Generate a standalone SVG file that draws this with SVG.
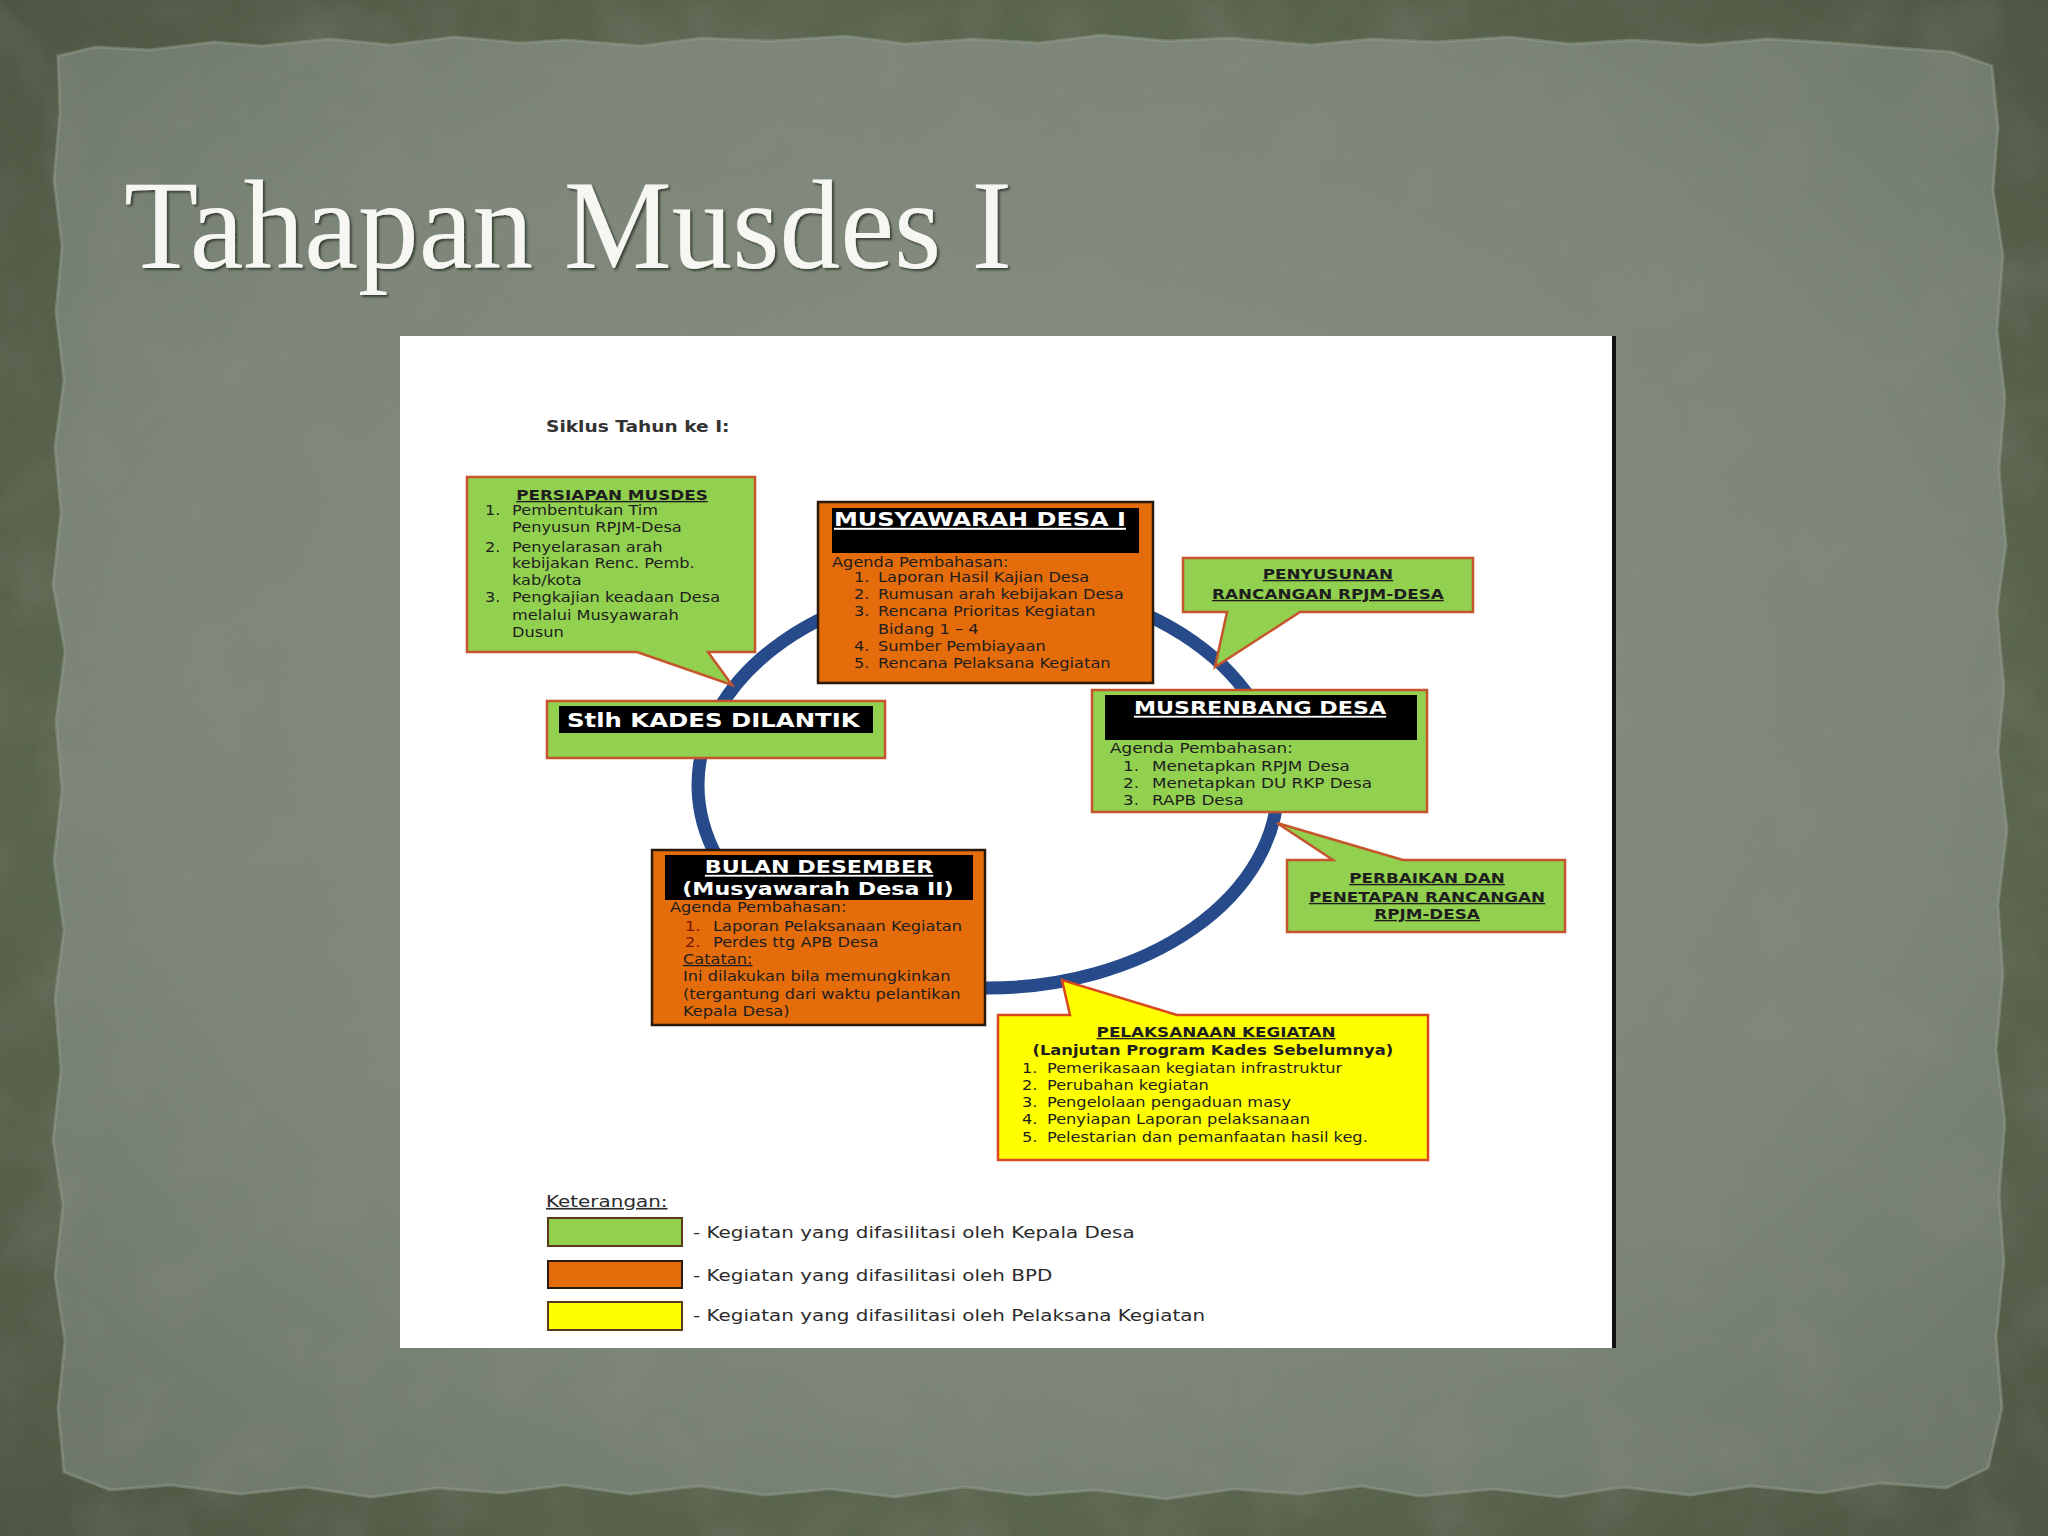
<svg xmlns="http://www.w3.org/2000/svg" width="2048" height="1536" viewBox="0 0 2048 1536">
<defs>
<radialGradient id="paper" cx="50%" cy="45%" r="70%">
<stop offset="0" stop-color="#899285"/>
<stop offset="0.7" stop-color="#7c8678"/>
<stop offset="1" stop-color="#6e786a"/>
</radialGradient>
<radialGradient id="outer" cx="50%" cy="50%" r="75%">
<stop offset="0.6" stop-color="#5b664f"/>
<stop offset="1" stop-color="#48523e"/>
</radialGradient>
<filter id="noise" x="0" y="0" width="100%" height="100%">
<feTurbulence type="fractalNoise" baseFrequency="0.9" numOctaves="2" seed="3" result="n"/>
<feColorMatrix in="n" type="matrix" values="0 0 0 0 0.2  0 0 0 0 0.22  0 0 0 0 0.18  0 0 0 -1.2 0.75"/>
</filter>
<filter id="mottle" x="0" y="0" width="100%" height="100%">
<feTurbulence type="fractalNoise" baseFrequency="0.012" numOctaves="3" seed="7" result="m"/>
<feColorMatrix in="m" type="matrix" values="0 0 0 0 0.25  0 0 0 0 0.28  0 0 0 0 0.22  0 0 0 -1.5 0.85"/>
</filter>
<filter id="emboss" x="-5%" y="-20%" width="110%" height="140%">
<feDropShadow dx="2" dy="2" stdDeviation="1.2" flood-color="#2f352b" flood-opacity="0.85"/>
</filter>
<style>
.t{font-family:"DejaVu Sans","Liberation Sans",sans-serif}
.b{font-weight:bold}
.u{text-decoration:underline}
.w{fill:#ffffff}
.green{fill:#92d050;stroke:#c5552a;stroke-width:2.5}
.orange{fill:#e46c0a;stroke:#2a1a0c;stroke-width:2.5}
.yellow{fill:#ffff00;stroke:#d9481e;stroke-width:2.5}
.hdr{fill:#000000}
.red{fill:#7a1500}
</style>
</defs>

<g id="background">
<rect width="2048" height="1536" fill="url(#outer)"/>
<path fill="url(#paper)" stroke="#9aa394" stroke-width="3" stroke-opacity="0.45" d="M58,56 L96,47 L150,50 L214,42 L262,46 L330,39 L391,45 L455,37 L520,43 L566,40 L640,46 L702,38 L770,41 L846,36 L905,44 L972,39 L1040,43 L1101,35 L1168,41 L1230,38 L1311,45 L1372,39 L1436,42 L1509,37 L1570,44 L1633,40 L1702,45 L1768,39 L1835,43 L1896,48 L1952,52 L1992,66 L1998,128 L1993,190 L2003,255 L1997,330 L2005,398 L1999,470 L2006,545 L1997,610 L2004,688 L1998,752 L2007,830 L1998,905 L2003,975 L1996,1050 L2005,1122 L1999,1195 L2004,1262 L1996,1338 L2002,1408 L1988,1468 L1946,1488 L1880,1483 L1822,1493 L1751,1486 L1690,1495 L1622,1487 L1560,1497 L1494,1489 L1420,1496 L1361,1486 L1300,1494 L1233,1489 L1166,1499 L1095,1490 L1030,1495 L964,1487 L895,1497 L830,1489 L765,1495 L699,1486 L630,1494 L565,1485 L502,1493 L437,1488 L371,1497 L305,1487 L240,1494 L171,1485 L110,1490 L64,1472 L58,1408 L65,1341 L55,1276 L63,1205 L53,1140 L61,1070 L55,998 L64,930 L54,861 L62,790 L56,722 L65,651 L53,585 L61,512 L55,447 L64,380 L56,312 L62,246 L54,180 L60,112 Z"/>
<rect width="2048" height="1536" filter="url(#mottle)" opacity="0.35"/>
<rect width="2048" height="1536" filter="url(#noise)" opacity="0.25"/>
</g>

<g id="title">
<text x="124" y="268" font-family="Liberation Serif, DejaVu Serif, serif" font-size="128" fill="#f6f6f2" textLength="888" lengthAdjust="spacingAndGlyphs" filter="url(#emboss)">Tahapan Musdes I</text>
</g>

<g id="panel">
<rect x="400" y="336" width="1214" height="1012" fill="#ffffff"/>
<rect x="1612" y="336" width="4" height="1012" fill="#111111"/>
<g transform="translate(546,0) scale(1.2,1)">
<text class="t b" x="0" y="432" font-size="15.5" fill="#333333">Siklus Tahun ke I:</text>
</g>
</g>

<g id="connectors">
<ellipse cx="988" cy="785" rx="290" ry="203" fill="none" stroke="#264a8a" stroke-width="13"/>
</g>

<g id="persiapan">
<path class="green" d="M467,477 H755 V652 H708 L732,685 L637,652 H467 Z"/>
<g transform="translate(467,0) scale(1.2,1)" font-size="13.5" fill="#1e1e1e">
<text class="t b u" x="120.8" y="500" text-anchor="middle" font-size="14">PERSIAPAN MUSDES</text>
<text class="t" x="15" y="515">1.</text><text class="t" x="37.5" y="515">Pembentukan Tim</text>
<text class="t" x="37.5" y="532">Penyusun RPJM-Desa</text>
<text class="t" x="15" y="552">2.</text><text class="t" x="37.5" y="552">Penyelarasan arah</text>
<text class="t" x="37.5" y="568">kebijakan Renc. Pemb.</text>
<text class="t" x="37.5" y="585">kab/kota</text>
<text class="t" x="15" y="602">3.</text><text class="t" x="37.5" y="602">Pengkajian keadaan Desa</text>
<text class="t" x="37.5" y="620">melalui Musyawarah</text>
<text class="t" x="37.5" y="637">Dusun</text>
</g>
</g>

<g id="musyawarah-desa-1">
<rect class="orange" x="818" y="502" width="335" height="181"/>
<rect class="hdr" x="832" y="508" width="307" height="45"/>
<g transform="translate(818,0) scale(1.2,1)" font-size="13.5" fill="#1e1e1e">
<text class="t b u w" x="13.3" y="526" font-size="20">MUSYAWARAH DESA I</text>
<text class="t" x="11.7" y="567">Agenda Pembahasan:</text>
<text class="t" x="30" y="582">1.</text><text class="t" x="50" y="582">Laporan Hasil Kajian Desa</text>
<text class="t" x="30" y="599">2.</text><text class="t" x="50" y="599">Rumusan arah kebijakan Desa</text>
<text class="t" x="30" y="616">3.</text><text class="t" x="50" y="616">Rencana Prioritas Kegiatan</text>
<text class="t" x="50" y="634">Bidang 1 – 4</text>
<text class="t" x="30" y="651">4.</text><text class="t" x="50" y="651">Sumber Pembiayaan</text>
<text class="t" x="30" y="668">5.</text><text class="t" x="50" y="668">Rencana Pelaksana Kegiatan</text>
</g>
</g>

<g id="penyusunan">
<path class="green" d="M1183,558 H1473 V612 H1300 L1215,667 L1227,612 H1183 Z"/>
<g transform="translate(1183,0) scale(1.2,1)" font-size="14" fill="#1e1e1e">
<text class="t b u" x="120.8" y="579" text-anchor="middle">PENYUSUNAN</text>
<text class="t b u" x="120.8" y="599" text-anchor="middle">RANCANGAN RPJM-DESA</text>
</g>
</g>

<g id="stlh-kades">
<rect class="green" x="547" y="701" width="338" height="57"/>
<rect class="hdr" x="559" y="706" width="314" height="27"/>
<g transform="translate(547,0) scale(1.25,1)" font-size="19.5">
<text class="t b w" x="16" y="727">Stlh KADES DILANTIK</text>
</g>
</g>

<g id="musrenbang">
<rect class="green" x="1092" y="690" width="335" height="122"/>
<rect class="hdr" x="1105" y="695" width="312" height="45"/>
<g transform="translate(1092,0) scale(1.2,1)" font-size="14" fill="#1e1e1e">
<text class="t b u w" x="140" y="714" text-anchor="middle" font-size="18.5">MUSRENBANG DESA</text>
<text class="t" x="15" y="753">Agenda Pembahasan:</text>
<text class="t" x="25.8" y="771">1.</text><text class="t" x="50" y="771">Menetapkan RPJM Desa</text>
<text class="t" x="25.8" y="788">2.</text><text class="t" x="50" y="788">Menetapkan DU RKP Desa</text>
<text class="t" x="25.8" y="805">3.</text><text class="t" x="50" y="805">RAPB Desa</text>
</g>
</g>

<g id="perbaikan">
<path class="green" d="M1287,860 H1333 L1277,823 L1403,860 H1565 V932 H1287 Z"/>
<g transform="translate(1287,0) scale(1.2,1)" font-size="14" fill="#1e1e1e">
<text class="t b u" x="116.7" y="883" text-anchor="middle">PERBAIKAN DAN</text>
<text class="t b u" x="116.7" y="902" text-anchor="middle">PENETAPAN RANCANGAN</text>
<text class="t b u" x="116.7" y="919" text-anchor="middle">RPJM-DESA</text>
</g>
</g>

<g id="bulan-desember">
<rect class="orange" x="652" y="850" width="333" height="175"/>
<rect class="hdr" x="665" y="855" width="308" height="45"/>
<g transform="translate(652,0) scale(1.2,1)" font-size="13.5" fill="#1e1e1e">
<text class="t b u w" x="139.2" y="873" text-anchor="middle" font-size="18.5">BULAN DESEMBER</text>
<text class="t b w" x="138.3" y="895" text-anchor="middle" font-size="18.5">(Musyawarah Desa II)</text>
<text class="t" x="15" y="912">Agenda Pembahasan:</text>
<text class="t red" x="27.5" y="931">1.</text><text class="t" x="50.8" y="931">Laporan Pelaksanaan Kegiatan</text>
<text class="t red" x="27.5" y="947">2.</text><text class="t" x="50.8" y="947">Perdes ttg APB Desa</text>
<text class="t u" x="25.8" y="964">Catatan:</text>
<text class="t" x="25.8" y="981">Ini dilakukan bila memungkinkan</text>
<text class="t" x="25.8" y="999">(tergantung dari waktu pelantikan</text>
<text class="t" x="25.8" y="1016">Kepala Desa)</text>
</g>
</g>

<g id="pelaksanaan">
<path class="yellow" d="M998,1015 H1070 L1062,980 L1177,1015 H1428 V1160 H998 Z"/>
<g transform="translate(998,0) scale(1.2,1)" font-size="13.5" fill="#1e1e1e">
<text class="t b u" x="181.7" y="1037" text-anchor="middle" font-size="14">PELAKSANAAN KEGIATAN</text>
<text class="t b" x="179" y="1055" text-anchor="middle" font-size="13.6">(Lanjutan Program Kades Sebelumnya)</text>
<text class="t" x="20" y="1073">1.</text><text class="t" x="40.8" y="1073">Pemerikasaan kegiatan infrastruktur</text>
<text class="t" x="20" y="1090">2.</text><text class="t" x="40.8" y="1090">Perubahan kegiatan</text>
<text class="t" x="20" y="1107">3.</text><text class="t" x="40.8" y="1107">Pengelolaan pengaduan masy</text>
<text class="t" x="20" y="1124">4.</text><text class="t" x="40.8" y="1124">Penyiapan Laporan pelaksanaan</text>
<text class="t" x="20" y="1142">5.</text><text class="t" x="40.8" y="1142">Pelestarian dan pemanfaatan hasil keg.</text>
</g>
</g>

<g id="legend">
<g transform="translate(546,0) scale(1.2,1)" font-size="16.6" fill="#2b2b2b">
<text class="t u" x="0" y="1207">Keterangan:</text>
</g>
<rect x="548" y="1218" width="134" height="28" fill="#92d050" stroke="#5a3a1a" stroke-width="2"/>
<rect x="548" y="1261" width="134" height="27" fill="#e46c0a" stroke="#2a1a0c" stroke-width="2"/>
<rect x="548" y="1302" width="134" height="28" fill="#ffff00" stroke="#5a3a1a" stroke-width="2"/>
<g transform="translate(693,0) scale(1.2,1)" font-size="16.6" fill="#2b2b2b">
<text class="t" x="0" y="1238">- Kegiatan yang difasilitasi oleh Kepala Desa</text>
<text class="t" x="0" y="1281">- Kegiatan yang difasilitasi oleh BPD</text>
<text class="t" x="0" y="1321">- Kegiatan yang difasilitasi oleh Pelaksana Kegiatan</text>
</g>
</g>
</svg>
